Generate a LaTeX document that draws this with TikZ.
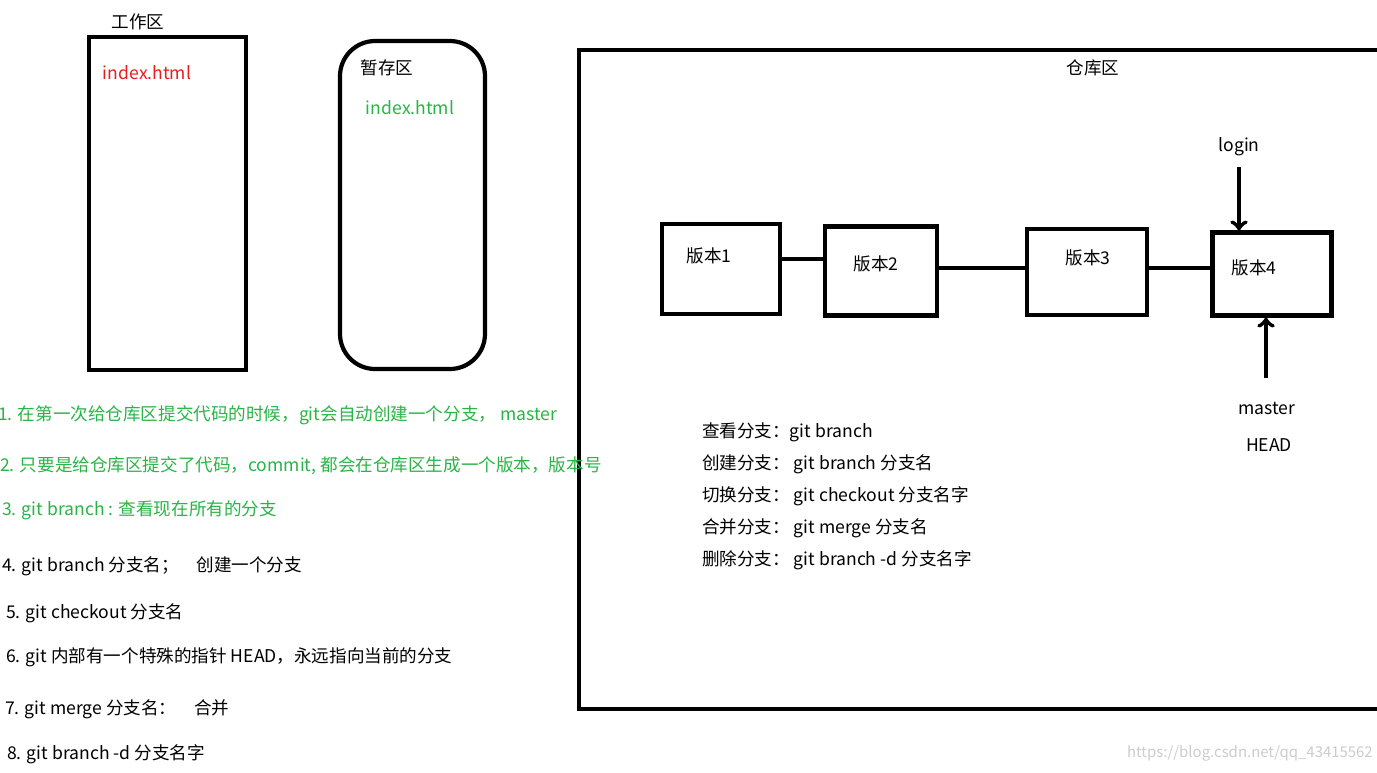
\documentclass[tikz,border=0pt]{standalone}
\usepackage{fontspec}
\setmainfont{Noto Sans CJK SC}
\definecolor{notegreen}{RGB}{40,180,70}
\definecolor{notered}{RGB}{230,30,30}
\begin{document}
\begin{tikzpicture}[x=0.02cm,y=-0.02cm,line width=2.4pt,
  every node/.style={font=\fontsize{10}{12}\selectfont,inner sep=0pt},
  version/.style={draw,line width=2.4pt,minimum width=2.3cm,minimum height=1.75cm},
  note/.style={anchor=west}]
  % Fix the picture's limits
  \useasboundingbox (0,0) rectangle (1377,772);
  % Areas
  \node at (138,22) {工作区};
  \draw (89,37) rectangle (246,370);
  \node[notered] at (147,73) {index.html};
  \draw[rounded corners=20] (340,41) rectangle (485,369);
  \node at (387,68) {暂存区};
  \node[notegreen] at (410,108) {index.html};
  \draw (579,50) rectangle (1380,709);
  \node at (1093,68) {仓库区};
  % Versions
  \node[version,minimum width=2.36cm,minimum height=1.8cm] (v1) at (721,269) {};
  \node at (709,256) {版本1};
  \node[version,minimum width=2.24cm,minimum height=1.78cm] (v2) at (881,271) {};
  \node at (876,264) {版本2};
  \node[version,minimum width=2.4cm,minimum height=1.72cm] (v3) at (1087,272) {};
  \node at (1088,258) {版本3};
  \node[version,minimum width=2.38cm,minimum height=1.66cm] (v4) at (1272,274) {};
  \node at (1254,268) {版本4};
  \draw (v1.east |- 0,259) -- (v2.west |- 0,259);
  \draw (v2.east |- 0,268) -- (v3.west |- 0,268);
  \draw (v3.east |- 0,268) -- (v4.west |- 0,268);
  % Pointers
  \node (login) at (1239,147) {login};
  \node (master) at (1267,408) {master};
  \node (head) at (1269,445) {HEAD};
  \draw[->] (1239,167) -- (v4.north -| 1239,0);
  \draw[->] (1266,378) -- (v4.south -| 1266,0);
  % Commands
  \node[note] at (700,432) {查看分支：git branch};
  \node[note] at (700,464) {创建分支：\ git branch 分支名};
  \node[note] at (700,496) {切换分支：\ git checkout 分支名字};
  \node[note] at (700,528) {合并分支：\ git merge 分支名};
  \node[note] at (700,560) {删除分支：\ git branch -d 分支名字};
  % Notes
  \node[note,notegreen] at (-4,415) {1. 在第一次给仓库区提交代码的时候，git会自动创建一个分支，\ master};
  \node[note,notegreen] at (-2,466) {2. 只要是给仓库区提交了代码，commit, 都会在仓库区生成一个版本，版本号};
  \node[note,notegreen] at (0,510) {3. git branch : 查看现在所有的分支};
  \node[note] at (0,566) {4. git branch 分支名；\quad 创建一个分支};
  \node[note] at (4,613) {5. git checkout 分支名};
  \node[note] at (4,657) {6. git 内部有一个特殊的指针\ HEAD，永远指向当前的分支};
  \node[note] at (3,709) {7. git merge 分支名：\quad 合并};
  \node[note] at (5,754) {8. git branch -d 分支名字};
  \node[note,gray!40,font=\fontsize{8.5}{10}\selectfont] at (1125,753) {https://blog.csdn.net/qq\_43415562};
\end{tikzpicture}
\end{document}
